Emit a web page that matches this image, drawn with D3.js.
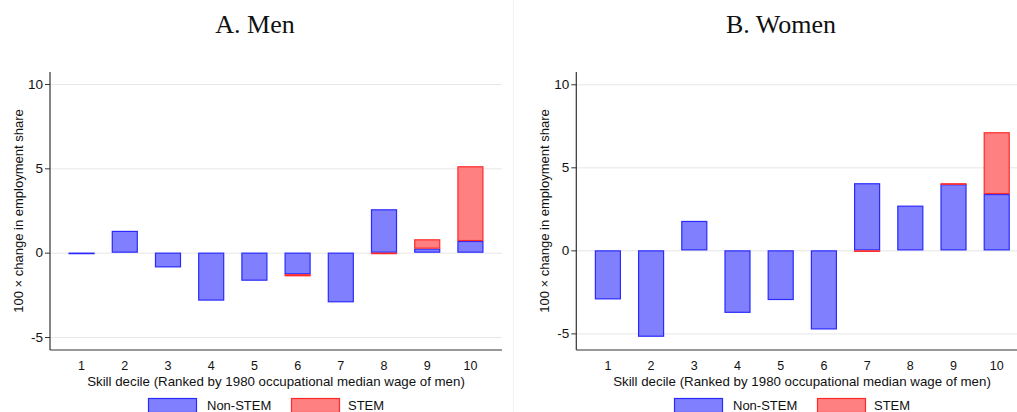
<!DOCTYPE html>
<html>
<head>
<meta charset="utf-8">
<script src="https://cdn.jsdelivr.net/npm/d3@7"></script>
<style>
  html, body { margin: 0; padding: 0; background: #fff; }
  svg { display: block; }
  text { font-family: "Liberation Sans", Arial, sans-serif; fill: #111; }
  .title { font-family: "Liberation Serif", "Times New Roman", serif; font-size: 26px; }
</style>
</head>
<body>
<svg id="chart" width="1017" height="412"></svg>
<script>
// ---- data ----
const deciles = ["1", "2", "3", "4", "5", "6", "7", "8", "9", "10"];
const seriesNames = ["Non-STEM", "STEM"];
const menNonStem   = [-0.03, 1.29, -0.87, -2.84, -1.66, -1.28, -2.94, 2.57, 0.24, 0.69];
const menStem      = [0, 0, 0, 0, 0, -0.12, 0, -0.07, 0.55, 4.43];
const womenNonStem = [-2.95, -5.20, 1.77, -3.76, -2.99, -4.76, 4.04, 2.69, 3.98, 3.39];
const womenStem    = [0, 0, 0, 0, 0, 0, -0.05, 0, 0.06, 3.72];
const yTicks = [-5, 0, 5, 10];
const yTickLabels = ["-5", "0", "5", "10"];
const panelTitles = ["A. Men", "B. Women"];
const xAxisTitle = "Skill decile (Ranked by 1980 occupational median wage of men)";
const yAxisTitle = "100 \u00d7 change in employment share";

const colors = {
  "Non-STEM": { fill: "#8080ff", stroke: "#2a2aff" },
  "STEM":     { fill: "#ff8080", stroke: "#ff2a2a" }
};

const svg = d3.select("#chart");

// separator line between panels
svg.append("line").attr("x1", 513.5).attr("x2", 513.5).attr("y1", 0).attr("y2", 412)
  .attr("stroke", "#f3f3f3").attr("stroke-width", 1);

function drawPanel(cfg) {
  const { nonStem, stem, x0, x1, yDomain, title, titleX, yLabelX, legendX, xTitleX } = cfg;
  const yTop = 72, yBot = 350;
  const rows = deciles.map((d, i) => ({ decile: d, "Non-STEM": nonStem[i], "STEM": stem[i] }));

  const x = d3.scaleBand().domain(deciles).range([x0, x1])
    .paddingInner(0.398).paddingOuter(0.43);
  const y = d3.scaleLinear().domain(yDomain).range([yBot, yTop]);

  const g = svg.append("g");

  // title
  g.append("text").attr("class", "title").attr("x", titleX).attr("y", 33)
    .attr("text-anchor", "middle").text(title);

  // gridlines
  g.append("g").selectAll("line").data(yTicks).join("line")
    .attr("x1", x0).attr("x2", Math.min(x1, 1017))
    .attr("y1", d => y(d) + 0.5).attr("y2", d => y(d) + 0.5)
    .attr("stroke", "#e6e6e6").attr("stroke-width", 1);

  // stacked bars
  const stack = d3.stack().keys(seriesNames).offset(d3.stackOffsetDiverging);
  const layers = stack(rows);
  layers.forEach(layer => {
    const c = colors[layer.key];
    g.append("g").selectAll("rect")
      .data(layer.filter(d => Math.abs(d[1] - d[0]) > 1e-6))
      .join("rect")
      .attr("x", d => x(d.data.decile) + 0.5)
      .attr("width", x.bandwidth() - 1)
      .attr("y", d => Math.min(y(d[0]), y(d[1])) + 0.5)
      .attr("height", d => Math.max(0.5, Math.abs(y(d[0]) - y(d[1])) - 1))
      .attr("fill", c.fill)
      .attr("stroke", c.stroke)
      .attr("stroke-width", 1.2);
  });

  // y axis
  const yAxis = d3.axisLeft(y).tickValues(yTicks).tickSize(5).tickPadding(2)
    .tickFormat((d, i) => yTickLabels[i]);
  const ya = g.append("g").attr("transform", `translate(${x0},0)`).call(yAxis);
  ya.select(".domain").remove();
  ya.selectAll(".tick line").attr("stroke", "#333");
  ya.selectAll(".tick text").style("font-size", "13.5px").style("font-family", "Liberation Sans, Arial, sans-serif").attr("fill", "#111");
  g.append("line").attr("x1", x0).attr("x2", x0).attr("y1", yTop).attr("y2", yBot)
    .attr("stroke", "#333").attr("stroke-width", 1.2);

  // x axis
  const xAxis = d3.axisBottom(x).tickSize(0).tickPadding(0);
  const xa = g.append("g").attr("transform", `translate(0,${yBot})`).call(xAxis);
  xa.select(".domain").remove();
  xa.selectAll(".tick text").attr("dy", null).attr("y", 20)
    .style("font-size", "12.5px").style("font-family", "Liberation Sans, Arial, sans-serif").attr("fill", "#111");
  g.append("line").attr("x1", x0).attr("x2", Math.min(x1, 1017)).attr("y1", yBot).attr("y2", yBot)
    .attr("stroke", "#333").attr("stroke-width", 1.2);

  // axis titles
  g.append("text").attr("x", xTitleX).attr("y", 386).attr("text-anchor", "middle")
    .style("font-size", "13.3px").text(xAxisTitle);
  g.append("text").attr("transform", `translate(${yLabelX},${211}) rotate(-90)`)
    .attr("text-anchor", "middle").style("font-size", "13px").text(yAxisTitle);

  // legend
  const legItems = [
    { key: "Non-STEM", bx: legendX, tx: legendX + 59 },
    { key: "STEM", bx: legendX + 143, tx: legendX + 200 }
  ];
  legItems.forEach(it => {
    g.append("rect").attr("x", it.bx + 0.5).attr("y", 398.5).attr("width", 48).attr("height", 14)
      .attr("fill", colors[it.key].fill).attr("stroke", colors[it.key].stroke).attr("stroke-width", 1.2);
    g.append("text").attr("x", it.tx).attr("y", 409.5).style("font-size", "13px").text(it.key);
  });
}

drawPanel({
  nonStem: menNonStem, stem: menStem,
  x0: 50, x1: 502, yDomain: [-5.77, 10.71],
  title: panelTitles[0], titleX: 255, yLabelX: 23, legendX: 148, xTitleX: 276
});
drawPanel({
  nonStem: womenNonStem, stem: womenStem,
  x0: 576.3, x1: 1028.3, yDomain: [-6.0, 10.74],
  title: panelTitles[1], titleX: 781, yLabelX: 549, legendX: 674, xTitleX: 802
});
</script>
</body>
</html>
